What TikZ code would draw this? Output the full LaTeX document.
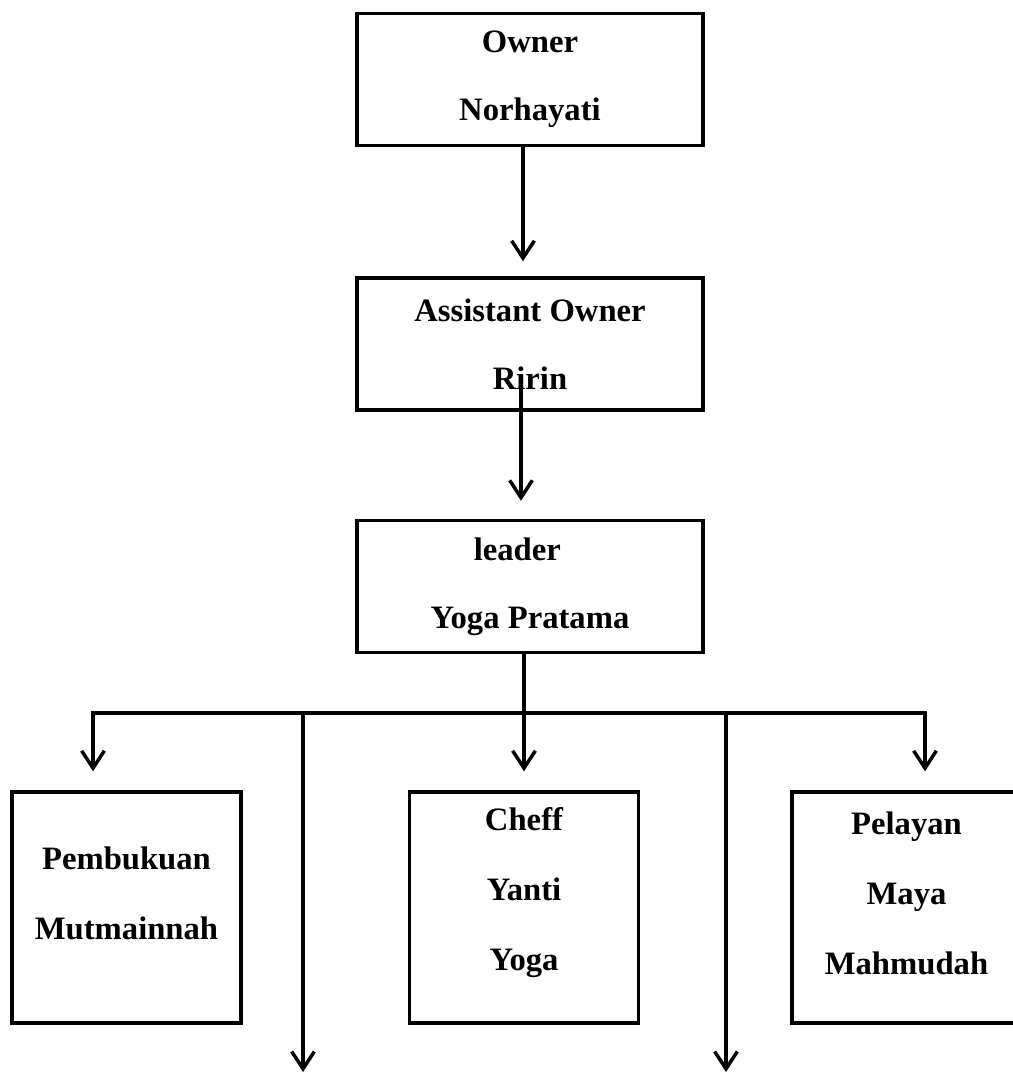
\documentclass[tikz,border=0pt]{standalone}
\usepackage{fontspec}
\setmainfont{Liberation Serif}
\usetikzlibrary{arrows.meta}

\tikzset{
  unitbox/.style={draw,line width=2.6pt,align=center,
    font=\fontsize{24.5}{51}\selectfont\bfseries,
    minimum width=259.5pt,minimum height=99pt},
  staffbox/.style={draw,line width=2.6pt,
    minimum width=171.75pt,minimum height=173.25pt},
  staffname/.style={align=center,inner sep=0pt,
    font=\fontsize{24.5}{52.5}\selectfont\bfseries},
  tip/.tip={Straight Barb[length=13pt,width=17pt,line width=2.6pt]},
  link/.style={line width=2.6pt,-tip},
}

\begin{document}
\begin{tikzpicture}[x=0.75pt,y=-0.75pt]
  \useasboundingbox (0,0) rectangle (1013,1074);
  \clip (0,0) rectangle (1013,1074);
  % upper chain
  \node[unitbox] (owner) at (530,79.5) {Owner\\Norhayati};
  \node[unitbox] (asst) at (530,344) {Assistant Owner\\Ririn};
  \node[unitbox] (leader) at (530,586.5) {leader\hspace*{19pt}\\Yoga Pratama};
  \draw[link,shorten >=11.25pt] ([xshift=-5.25pt]owner.south) -- ([xshift=-5.25pt]asst.north);
  \draw[link,shorten >=13.5pt] ([xshift=-6.75pt,yshift=22.5pt]asst.south) -- ([xshift=-6.75pt]leader.north);
  %%
  % staff row
  \node[staffbox] (buku) at (126.5,907.5) {};
  \node[staffname] (bukuT) at (126.5,893) {Pembukuan\\Mutmainnah};
  \node[staffbox] (cheff) at (524,907.5) {};
  \node[staffname] (cheffT) at (524,893) {Cheff\\Yanti\\Yoga};
  \node[staffbox] (pelayan) at (906.5,907.5) {};
  \node[staffname] (pelayanT) at (906.5,893) {Pelayan\\Maya\\Mahmudah};
  %%
  \coordinate (busL) at (93,713);
  \coordinate (busR) at (925,713);
  \coordinate (dropL) at (303,1072);
  \coordinate (dropR) at (726,1072);
  \draw[link,shorten >=14.25pt] (leader.south -| cheff.north) -- (cheff.north);
  \draw[link,tip-tip,shorten <=14.25pt,shorten >=14.25pt]
    (busL |- buku.north) -- (busL) -- (busR) -- (busR |- pelayan.north);
  \draw[link] (dropL |- busL) -- (dropL);
  \draw[link] (dropR |- busR) -- (dropR);
\end{tikzpicture}
\end{document}
